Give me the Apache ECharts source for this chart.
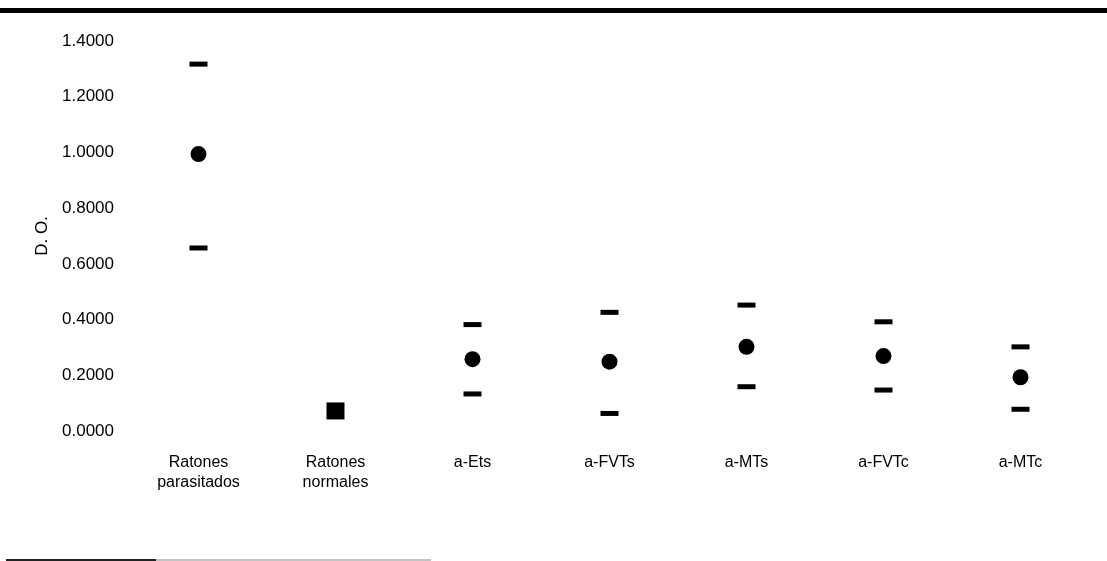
<!DOCTYPE html>
<html>
<head>
<meta charset="utf-8">
<script src="https://cdn.jsdelivr.net/npm/echarts@6/dist/echarts.min.js"></script>
<style>html,body{margin:0;padding:0;background:#fff;}#c{width:1107px;height:561px;}</style>
</head>
<body>
<div id="c"></div>
<script>
var categories = ['Ratones\nparasitados', 'Ratones\nnormales', 'a-Ets', 'a-FVTs', 'a-MTs', 'a-FVTc', 'a-MTc'];
var upperValues = [1.317, null, 0.382, 0.426, 0.452, 0.392, 0.302];
var meanValues  = [0.994, 0.072, 0.258, 0.249, 0.302, 0.269, 0.193];
var lowerValues = [0.657, null, 0.133, 0.063, 0.159, 0.147, 0.078];
var yTicks = [0, 0.2, 0.4, 0.6, 0.8, 1.0, 1.2, 1.4];

var chart = echarts.init(document.getElementById('c'), null, {renderer: 'canvas'});
var font = 'Liberation Sans, Arial, sans-serif';
var meanData = meanValues.map(function (v, i) {
  if (i === 1) return {value: v, symbol: 'rect', symbolSize: [18, 17]};
  return v;
});
var markStyle = {color: '#000', opacity: 1};
chart.setOption({
  animation: false,
  backgroundColor: '#fff',
  grid: {left: 130, right: 18, top: 41, bottom: 130},
  xAxis: {
    type: 'category',
    data: categories,
    boundaryGap: true,
    axisLine: {show: false},
    axisTick: {show: false},
    splitLine: {show: false},
    axisLabel: {color: '#000', fontFamily: font, fontSize: 16, lineHeight: 20, margin: 22}
  },
  yAxis: {
    type: 'value',
    min: yTicks[0], max: yTicks[yTicks.length - 1], interval: 0.2,
    name: 'D. O.',
    nameLocation: 'middle',
    nameGap: 78,
    nameRotate: 90,
    nameTextStyle: {color: '#000', fontFamily: font, fontSize: 17},
    axisLine: {show: false},
    axisTick: {show: false},
    splitLine: {show: false},
    axisLabel: {color: '#000', fontFamily: font, fontSize: 17, margin: 16,
      formatter: function (v) { return v.toFixed(4); }}
  },
  series: [
    {type: 'scatter', name: 'upper', data: upperValues, symbol: 'rect', symbolSize: [18, 5],
      itemStyle: markStyle},
    {type: 'scatter', name: 'mean', data: meanData, symbol: 'circle', symbolSize: 16,
      itemStyle: markStyle},
    {type: 'scatter', name: 'lower', data: lowerValues, symbol: 'rect', symbolSize: [18, 5],
      itemStyle: markStyle}
  ],
  graphic: [
    {type: 'rect', shape: {x: 0, y: 8, width: 1107, height: 5}, style: {fill: '#000'}},
    {type: 'rect', shape: {x: 6, y: 559, width: 150, height: 2}, style: {fill: '#222'}},
    {type: 'rect', shape: {x: 156, y: 559.5, width: 275, height: 1}, style: {fill: '#888'}}
  ]
});
</script>
</body>
</html>
